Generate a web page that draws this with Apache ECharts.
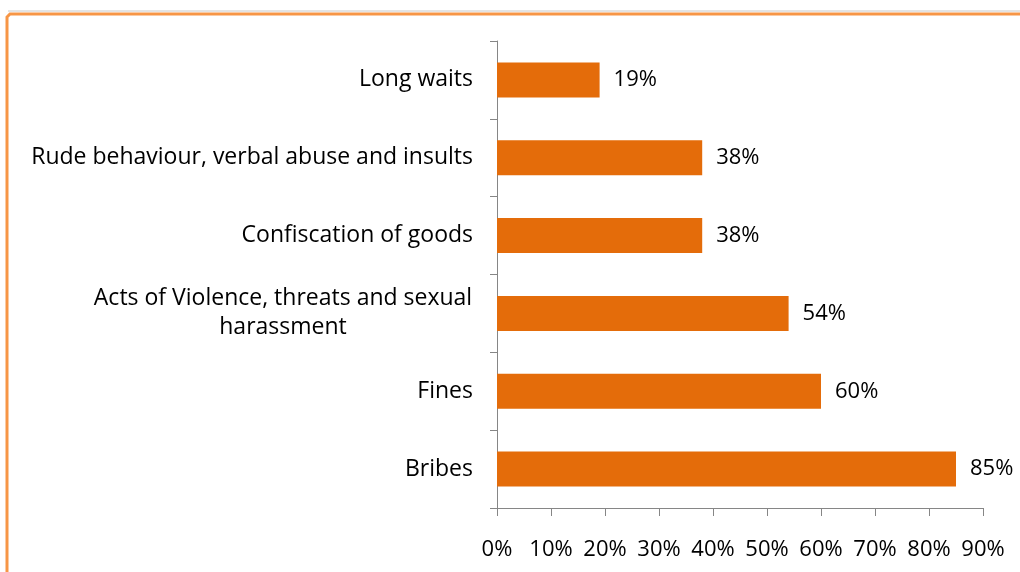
<!DOCTYPE html>
<html><head><meta charset="utf-8">
<script src="https://cdn.jsdelivr.net/npm/echarts@6/dist/echarts.min.js"></script>
<style>html,body{margin:0;padding:0;background:#fff}#c{width:1020px;height:572px}</style>
</head><body><div id="c"></div>
<script>
const categories = ['Bribes','Fines','Acts of Violence, threats and sexual\nharassment','Confiscation of goods','Rude behaviour, verbal abuse and insults','Long waits'];
const values = [85, 60, 54, 38, 38, 19];
const xTicks = [0,10,20,30,40,50,60,70,80,90];
const FONT = 'Open Sans';
const chart = echarts.init(document.getElementById('c'));
chart.setOption({
  animation: false,
  backgroundColor: '#fff',
  grid: {left: 497, right: 37, top: 41, bottom: 64, containLabel: false},
  xAxis: {
    type: 'value', min: xTicks[0], max: xTicks[xTicks.length-1], interval: 10,
    axisLine: {show: true, lineStyle: {color: '#868686', width: 1}},
    axisTick: {show: true, length: 8, lineStyle: {color: '#868686'}},
    splitLine: {show: false},
    axisLabel: {formatter: v => v + '%', color: '#000', fontFamily: FONT, fontSize: 22, margin: 31}
  },
  yAxis: {
    type: 'category', data: categories,
    axisLine: {show: true, lineStyle: {color: '#868686', width: 1}},
    axisTick: {show: true, length: 7, lineStyle: {color: '#868686'}},
    axisLabel: {
      color: '#000', fontFamily: FONT, fontSize: 23, margin: 24, align: 'right', lineHeight: 29,
      formatter: v => v.indexOf('\n') >= 0 ? v.split('\n').map(s => '{c|' + s + '}').join('\n') : v,
      rich: {c: {width: 380, align: 'center', color: '#000', fontFamily: FONT, fontSize: 23, lineHeight: 29}}
    }
  },
  series: [{
    type: 'bar', data: values, barWidth: 35,
    itemStyle: {color: '#E46C0A'},
    label: {show: true, position: 'right', distance: 14, formatter: p => p.value + '%', color: '#000', fontFamily: FONT, fontSize: 22}
  }],
  graphic: [
    {type: 'line', shape: {x1: 8, y1: 11, x2: 1020, y2: 11}, style: {stroke: '#c8c8c8', lineWidth: 1}},
    {type: 'polyline', shape: {points: [[7, 572], [7, 17], [10, 14], [1020, 14]]}, style: {stroke: '#F79646', lineWidth: 3, fill: null}}
  ]
});
</script></body></html>
